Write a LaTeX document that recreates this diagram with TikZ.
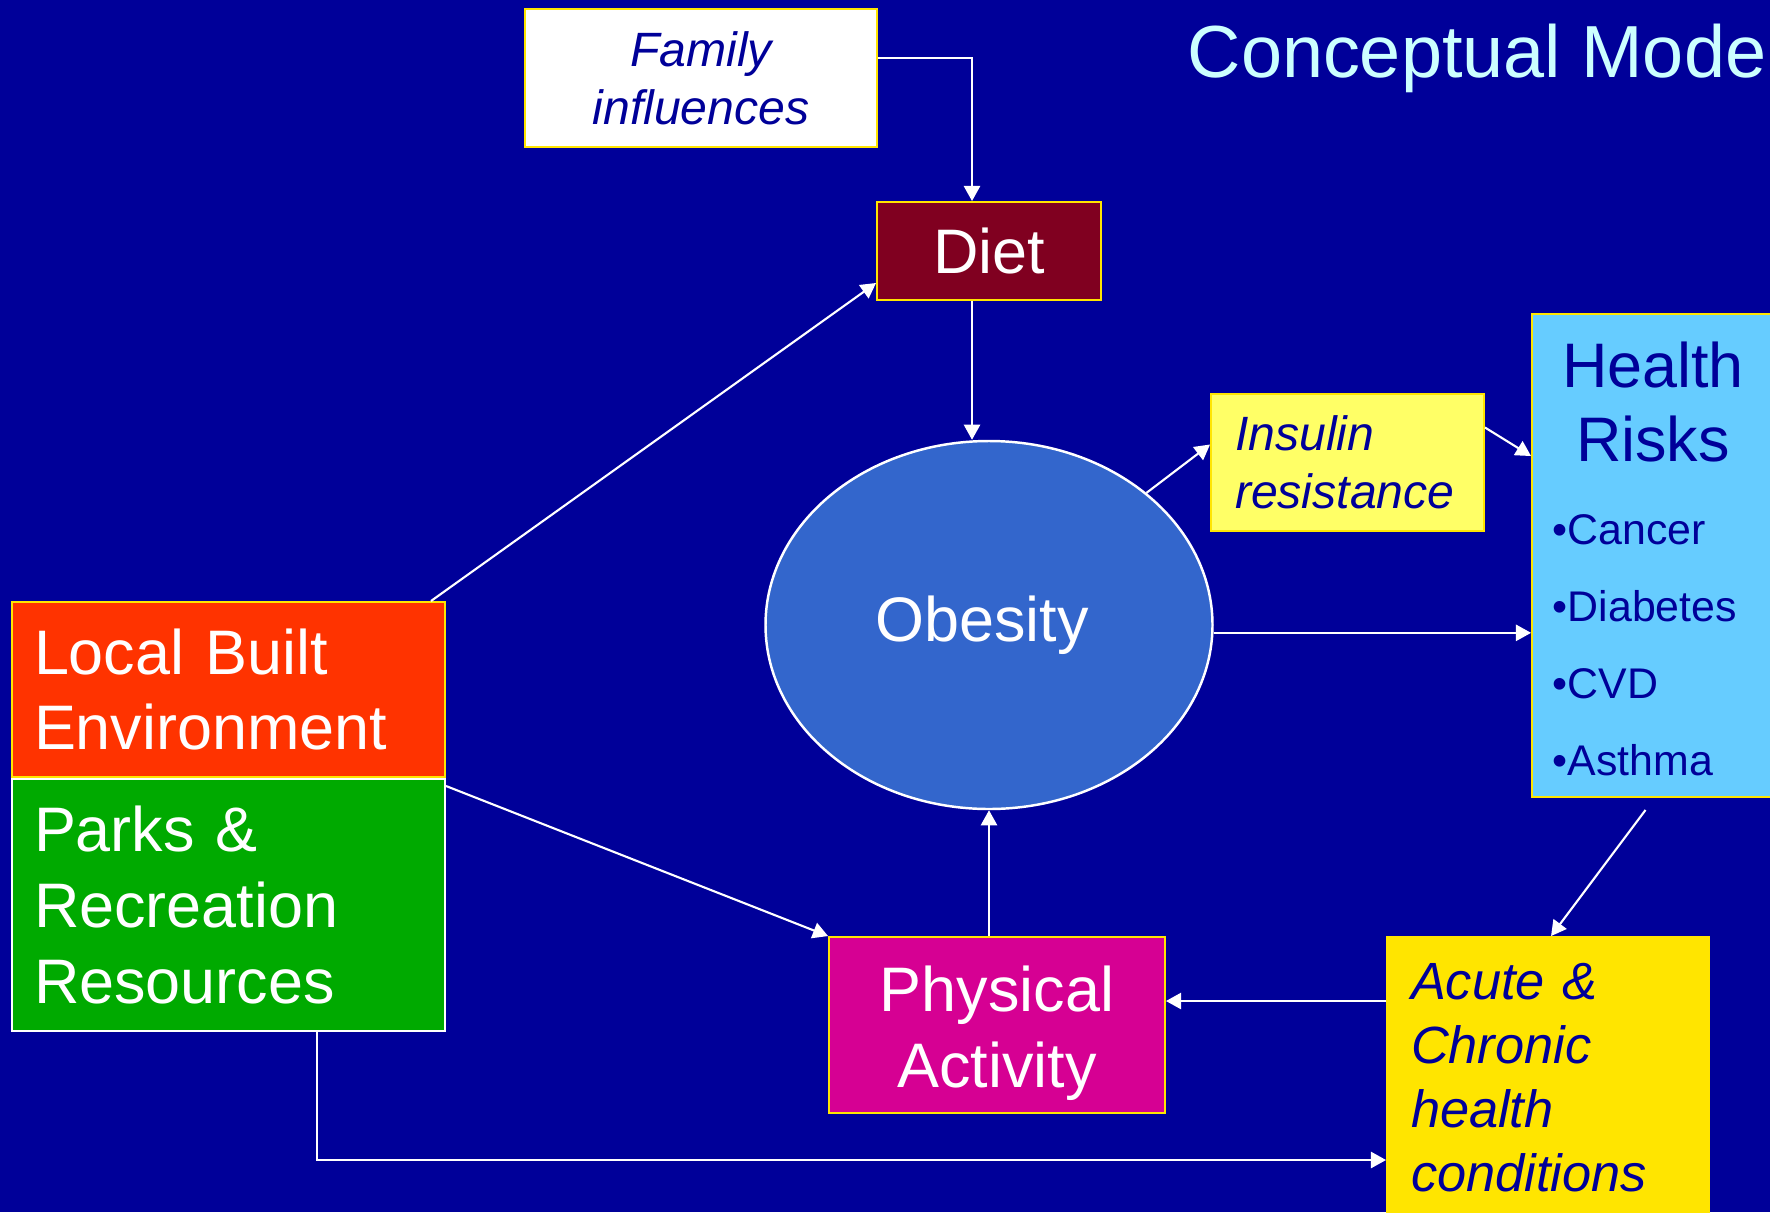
\documentclass[tikz,border=0pt]{standalone}
\usepackage{fontspec}
\setmainfont{Liberation Sans}
\usetikzlibrary{arrows.meta, positioning, shapes.geometric}

\definecolor{navy}{HTML}{000099}
\definecolor{titlecyan}{HTML}{CCFFFF}
\definecolor{boxyellow}{HTML}{FFE500}
\definecolor{dietred}{HTML}{800020}
\definecolor{obeseblue}{HTML}{3366CC}
\definecolor{insulinyellow}{HTML}{FFFF66}
\definecolor{riskblue}{HTML}{66CCFF}
\definecolor{acuteyellow}{HTML}{FFE500}
\definecolor{activepink}{HTML}{D60093}
\definecolor{builtred}{HTML}{FF3300}
\definecolor{parkgreen}{HTML}{00AA00}

\begin{document}
\begin{tikzpicture} [>={Triangle[length=4.3pt,width=4.6pt]},
        box/.style={rectangle, draw=boxyellow, line width=0.55pt, inner sep=0pt},
        bigtext/.style={font=\fontsize{17.9}{21.6}\selectfont, text=white},
        smalltext/.style={font=\itshape\fontsize{13.7}{16.4}\selectfont, text=navy},
        conn/.style={->, white, line width=0.6pt}]
        \def\W{17.70}
        \def\H{12.12}

        \clip (0,0) rectangle (\W,-\H);
        \fill[navy] (0,0) rectangle (\W,-\H);

        \node[anchor=base west, inner sep=0pt, text=titlecyan,
              font=\fontsize{21}{26}\selectfont] (title) at (11.87,-0.77) {Conceptual Mode};

        % boxes
        \node[box, fill=white, smalltext, align=center, minimum width=3.52cm, minimum height=1.38cm]
            (family) at (7.01,-0.78) {Family\\influences};
        \node[box, fill=dietred, bigtext, minimum width=2.24cm, minimum height=0.98cm]
            (diet) at (9.89,-2.51) {Diet};
        \node[ellipse, draw=white, line width=0.7pt, fill=obeseblue, inner sep=0pt,
              minimum width=4.47cm, minimum height=3.68cm] (obesity) at (9.89,-6.25) {};
        \node[bigtext] (obesitytext) at ([xshift=-0.07cm]obesity.center) {Obesity};
        \node[box, fill=insulinyellow, smalltext, align=left, text width=2.25cm, inner xsep=0.24cm,
              minimum height=1.37cm] (insulin) at (13.475,-4.625) {Insulin\\resistance};
        \node[box, fill=riskblue, minimum width=2.53cm, minimum height=4.83cm]
            (health) at (16.585,-5.555) {};
        \node[text=navy, font=\fontsize{17.9}{21.3}\selectfont, align=center, inner sep=0pt]
            (riskhead) at (16.53,-4.02) {Health\\Risks};
        \node[text=navy, font=\fontsize{12.2}{21.9}\selectfont, align=left, anchor=west, inner sep=0pt]
            (risklist) at (15.52,-6.455) {•Cancer\\•Diabetes\\•CVD\\•Asthma};
        \node[box, draw=acuteyellow, fill=acuteyellow, text=navy, font=\itshape\fontsize{14.9}{18.2}\selectfont,
              align=left, text width=2.74cm, inner xsep=0.24cm, minimum height=2.82cm]
            (acute) at (15.48,-10.78) {Acute \&\\Chronic\\health\\conditions};
        \node[box, fill=activepink, minimum width=3.36cm, minimum height=1.76cm]
            (physical) at (9.97,-10.25) {};
        \node[bigtext, align=center] (physicaltext) at ([yshift=-0.08cm]physical.center) {Physical\\Activity};
        \node[box, fill=builtred, bigtext, align=left, text width=3.89cm, inner xsep=0.22cm,
              minimum height=1.75cm] (local) at (2.285,-6.895) {Local Built\\Environment};
        \node[box, draw=white, fill=parkgreen, bigtext, align=left, text width=3.89cm, inner xsep=0.22cm,
              minimum height=2.52cm, below=0pt of local] (parks) {Parks \&\\Recreation\\Resources};

        % arrows
        \draw[conn] ([yshift=0.2cm]family.east) -| ([xshift=-0.17cm]diet.north);
        \draw[conn] ([xshift=-0.17cm]diet.south) -- ([xshift=-0.17cm]obesity.north);
        \draw[conn] ([xshift=-0.15cm]local.north east) -- ([yshift=-0.32cm]diet.west);
        \draw[conn] ([yshift=-0.08cm]parks.north east) -- (physical.north west);
        \draw[conn] (physical.north -| obesity.south) -- (obesity.south);
        \draw[conn] (obesity.40) -- ([yshift=0.18cm]insulin.west);
        \draw[conn] ([yshift=0.35cm]insulin.east) -- ([yshift=-1.43cm]health.north west);
        \draw[conn] (obesity.-2) -- (obesity.-2 -| health.west);
        \draw[conn] ([shift={(-0.13,-0.12)}]health.south) -- ([xshift=1.65cm]acute.north west);

        \coordinate (pa) at ([yshift=0.24cm]physical.east);
        \draw[conn] (pa -| acute.west) -- (pa);
        \coordinate (pc) at ([xshift=0.885cm]parks.south);
        \draw[conn] (pc) |- ([yshift=-0.82cm]acute.west);
\end{tikzpicture}
\end{document}
